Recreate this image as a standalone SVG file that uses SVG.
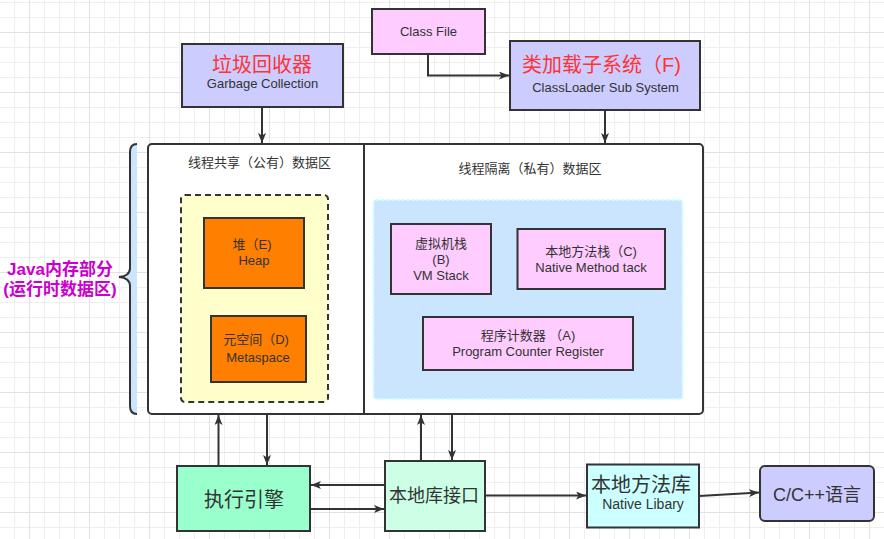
<svg xmlns="http://www.w3.org/2000/svg" width="884" height="539" viewBox="0 0 884 539">
<style>
text{font-family:"Liberation Sans","Noto Sans CJK SC",sans-serif;fill:#333;text-anchor:middle;font-size:13px}
.box{stroke:#333;stroke-width:2}
.red{fill:#ff3333;font-size:20px}
.big{font-size:20px}
.mag{fill:#cc00cc;font-weight:bold;font-size:17px}
.ln{stroke:#333;stroke-width:2;fill:none}
</style>
<defs>
<pattern id="grid" patternUnits="userSpaceOnUse" x="29" y="32" width="60" height="60">
<path d="M15.5 0V60M30.5 0V60M45.5 0V60M0 15.5H60M0 30.5H60M0 45.5H60" stroke="#efefef" stroke-width="1"/>
<path d="M0.5 0V60M0 0.5H60" stroke="#e2e2e2" stroke-width="1"/>
</pattern>
<marker id="ah" markerWidth="10" markerHeight="8" refX="10" refY="4" orient="auto" markerUnits="userSpaceOnUse">
<path d="M0 0L10 4L0 8L2.5 4Z" fill="#333"/>
</marker>
</defs>
<rect width="884" height="539" fill="#fff"/>
<rect width="884" height="539" fill="url(#grid)"/>

<g id="classfile">
<rect class="box" x="372" y="9" width="113" height="45" fill="#ffccff"/>
<text x="428.5" y="36">Class File</text>
</g>
<g id="gc">
<rect class="box" x="182" y="44" width="161" height="63" fill="#ccccff"/>
<text class="red" x="262" y="72">垃圾回收器</text>
<text x="262.5" y="88">Garbage Collection</text>
</g>
<g id="classloader">
<rect class="box" x="510" y="41" width="190" height="69" fill="#ccccff"/>
<text class="red" x="522" y="72" style="text-anchor:start">类加载子系统（F)</text>
<text x="605.5" y="92">ClassLoader Sub System</text>
</g>

<g id="brace">
<path d="M137 144Q130 144 130 152L130 268Q130 276 119 277Q130 278 130 286L130 406Q130 414 137 414" fill="#cce5ff" stroke="#333" stroke-width="2"/>
<text class="mag" x="60" y="275">Java内存部分</text>
<text class="mag" x="60" y="295">(运行时数据区)</text>
</g>

<g id="runtime">
<rect class="box" x="148" y="144" width="555" height="270" rx="4" fill="#fff"/>
<line class="ln" x1="364" y1="144" x2="364" y2="414"/>
</g>

<g id="shared">
<text x="259.5" y="167">线程共享（公有）数据区</text>
<rect x="181" y="195" width="147" height="207" rx="4" fill="#ffffcc" stroke="#333" stroke-width="2" stroke-dasharray="6,4"/>
</g>
<g id="heap">
<rect class="box" x="204" y="218" width="100" height="70" fill="#ff8000"/>
<text x="252" y="249">堆（E)</text>
<text x="254" y="265">Heap</text>
</g>
<g id="metaspace">
<rect class="box" x="211" y="316" width="95" height="66" fill="#ff8000"/>
<text x="256" y="344">元空间（D)</text>
<text x="258" y="361.5">Metaspace</text>
</g>

<g id="private">
<text x="530" y="173">线程隔离（私有）数据区</text>
<rect x="373.5" y="200" width="309" height="199" rx="3" fill="#cce5ff" stroke="#ccffff" stroke-width="2" stroke-dasharray="3,2"/>
</g>
<g id="vmstack">
<rect class="box" x="391" y="224" width="100" height="70" fill="#ffccff"/>
<text x="441" y="248">虚拟机栈</text>
<text x="441" y="264">(B)</text>
<text x="441" y="279.5">VM Stack</text>
</g>
<g id="nativestack">
<rect class="box" x="517.5" y="229" width="147.5" height="60" fill="#ffccff"/>
<text x="591" y="256">本地方法栈（C)</text>
<text x="591" y="271.5">Native Method tack</text>
</g>
<g id="pc">
<rect class="box" x="423" y="317" width="210" height="53" fill="#ffccff"/>
<text x="528" y="339.5">程序计数器 （A)</text>
<text x="528" y="356">Program Counter Register</text>
</g>

<g id="engine">
<rect class="box" x="177" y="466" width="133" height="65" fill="#99ffcc"/>
<text class="big" x="244" y="506.5">执行引擎</text>
</g>
<g id="jni">
<rect class="box" x="385" y="461" width="100" height="70" fill="#ccffe6"/>
<text x="434" y="501.5" style="font-size:18px">本地库接口</text>
</g>
<g id="nativelib">
<rect class="box" x="587" y="464.5" width="112" height="63" fill="#ccffff"/>
<text class="big" x="641" y="491.5">本地方法库</text>
<text x="643" y="509" style="font-size:14px">Native Libary</text>
</g>
<g id="cpp">
<rect class="box" x="760" y="466" width="114" height="55" rx="5" fill="#ccccff"/>
<text x="817" y="500.5" style="font-size:18px">C/C++语言</text>
</g>

<g id="connectors">
<path class="ln" d="M428 54V75.5H509" marker-end="url(#ah)"/>
<path class="ln" d="M262 107V143" marker-end="url(#ah)"/>
<path class="ln" d="M605 110V143" marker-end="url(#ah)"/>
<path class="ln" d="M218.5 465V415" marker-end="url(#ah)"/>
<path class="ln" d="M267 414V465" marker-end="url(#ah)"/>
<path class="ln" d="M421 460V415" marker-end="url(#ah)"/>
<path class="ln" d="M452 414V460" marker-end="url(#ah)"/>
<path class="ln" d="M385 485H311" marker-end="url(#ah)"/>
<path class="ln" d="M310 509H384" marker-end="url(#ah)"/>
<path class="ln" d="M485 495.5H586" marker-end="url(#ah)"/>
<path class="ln" d="M699 496L759 492.5" marker-end="url(#ah)"/>
</g>
</svg>
